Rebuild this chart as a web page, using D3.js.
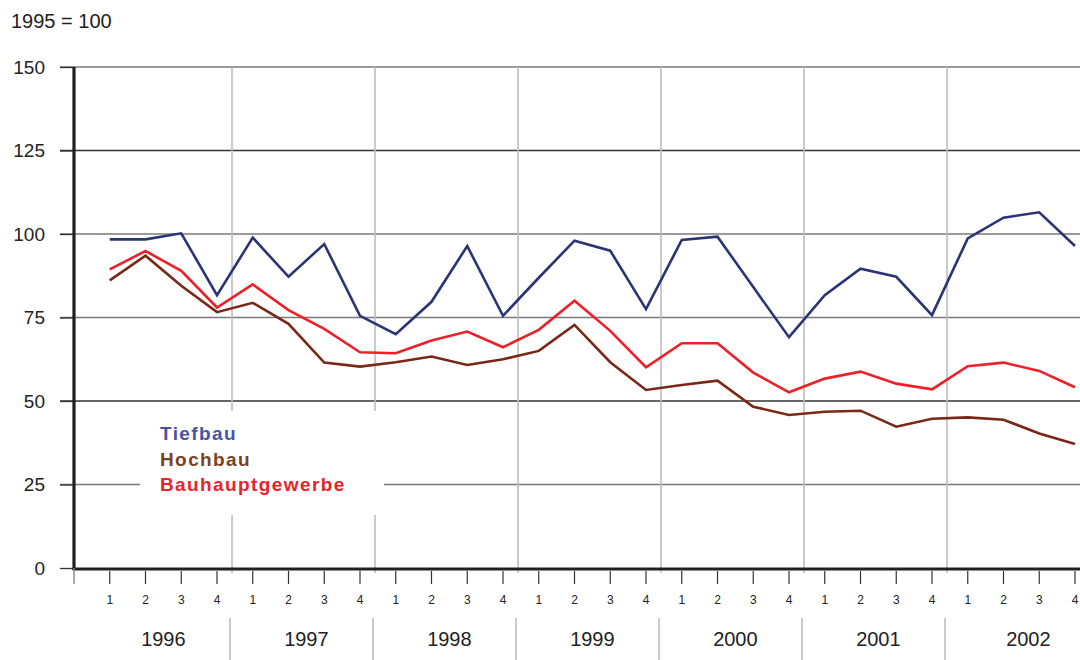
<!DOCTYPE html>
<html>
<head>
<meta charset="utf-8">
<script src="https://cdn.jsdelivr.net/npm/d3@7"></script>
<style>
  body { margin: 0; background: #fff; }
  svg text { font-family: "Liberation Sans", Arial, sans-serif; }
</style>
</head>
<body>
<div id="chart"></div>
<script>
// quarters 1996..2002
var years = ["1996", "1997", "1998", "1999", "2000", "2001", "2002"];
var quarters = ["1", "2", "3", "4"];
var yTicks = [0, 25, 50, 75, 100, 125, 150];

var tiefbau = [98.4, 98.4, 100.2, 81.7, 98.9, 87.2, 97.0, 75.5, 70.0, 79.7, 96.4, 75.5, 86.9, 98.0,
               95.0, 77.5, 98.2, 99.2, 84.1, 69.1, 81.7, 89.6, 87.2, 75.7, 98.7, 104.9, 106.5, 96.4];
var hochbau = [86.1, 93.5, 84.5, 76.6, 79.4, 73.1, 61.5, 60.3, 61.6, 63.3, 60.8, 62.5, 65.0, 72.8,
               61.6, 53.3, 54.8, 56.1, 48.3, 45.8, 46.8, 47.1, 42.3, 44.7, 45.1, 44.4, 40.3, 37.1];
var bauhaupt = [89.4, 94.9, 89.0, 78.0, 84.9, 77.2, 71.6, 64.6, 64.3, 68.1, 70.8, 66.1, 71.3, 80.0,
                71.0, 60.1, 67.3, 67.3, 58.5, 52.6, 56.7, 58.8, 55.2, 53.5, 60.4, 61.5, 59.0, 54.1];

var seriesNames = ["Tiefbau", "Hochbau", "Bauhauptgewerbe"];

(function () {
  var width = 1080, height = 660;
  var left = 74, top = 67, bottom = 568;

  var svg = d3.select("#chart").append("svg")
      .attr("width", width)
      .attr("height", height);

  // index 0 is the axis, quarters sit at 1..28
  var x = d3.scaleLinear().domain([0, 28]).range([left, 1075]);
  var y = d3.scaleLinear().domain([0, 150]).range([bottom, top]);

  // unit label
  svg.append("text")
      .attr("x", 11).attr("y", 28)
      .style("font-size", "20px")
      .attr("fill", "#222")
      .text("1995 = 100");

  // horizontal grid
  var darkLines = [125, 50];
  svg.selectAll(".hgrid")
      .data(yTicks.filter(function(d) { return d > 0; }))
      .enter().append("line")
      .attr("class", "hgrid")
      .attr("x1", 60).attr("x2", width)
      .attr("y1", function(d) { return y(d); })
      .attr("y2", function(d) { return y(d); })
      .attr("stroke", function(d) { return darkLines.indexOf(d) >= 0 ? "#333" : "#7a7a7a"; })
      .attr("stroke-width", function(d) { return darkLines.indexOf(d) >= 0 ? 1.3 : 1.6; });

  // year separators
  var seps = d3.range(1, years.length).map(function(k) { return 4 * k + 0.42; });
  svg.selectAll(".vgrid")
      .data(seps)
      .enter().append("line")
      .attr("class", "vgrid")
      .attr("x1", function(d) { return x(d); })
      .attr("x2", function(d) { return x(d); })
      .attr("y1", top).attr("y2", bottom + 5)
      .attr("stroke", "#bdbdbd")
      .attr("stroke-width", 1.6);

  // white box behind legend
  svg.append("rect")
      .attr("x", 140).attr("y", 411)
      .attr("width", 244).attr("height", 104)
      .attr("fill", "#fff");

  // y tick labels and ticks
  var yAxis = svg.append("g")
      .attr("transform", "translate(" + left + ",0)")
      .call(d3.axisLeft(y).tickValues(yTicks).tickSize(14).tickPadding(15));
  yAxis.select(".domain").remove();
  yAxis.selectAll(".tick line").attr("stroke", "#333").attr("stroke-width", 1.3);
  yAxis.selectAll(".tick text")
      .attr("fill", "#222")
      .style("font-size", "19px")
      .style("font-family", "'Liberation Sans', Arial, sans-serif");

  // series lines
  var colors = ["#2b3474", "#7b2716", "#ee1f27"];
  var data = [tiefbau, hochbau, bauhaupt];
  var line = d3.line()
      .x(function(d, i) { return x(i + 1); })
      .y(function(d) { return y(d); });

  svg.selectAll(".series")
      .data([tiefbau, bauhaupt, hochbau])
      .enter().append("path")
      .attr("class", "series")
      .attr("d", line)
      .attr("fill", "none")
      .attr("stroke", function(d) { return colors[data.indexOf(d)]; })
      .attr("stroke-width", 2.6)
      .attr("stroke-linejoin", "miter");

  // axes lines
  svg.append("line")
      .attr("x1", left).attr("x2", left)
      .attr("y1", top).attr("y2", bottom + 2)
      .attr("stroke", "#231f20").attr("stroke-width", 3.2);
  svg.append("line")
      .attr("x1", left - 1.5).attr("x2", width)
      .attr("y1", bottom + 1).attr("y2", bottom + 1)
      .attr("stroke", "#231f20").attr("stroke-width", 3.2);

  // quarter ticks
  var qIdx = d3.range(1, 29);
  svg.selectAll(".qtick")
      .data(qIdx)
      .enter().append("line")
      .attr("class", "qtick")
      .attr("x1", function(d) { return x(d); })
      .attr("x2", function(d) { return x(d); })
      .attr("y1", bottom + 3).attr("y2", bottom + 16)
      .attr("stroke", "#333").attr("stroke-width", 1.2);
  svg.append("line")
      .attr("x1", x(0)).attr("x2", x(0))
      .attr("y1", bottom).attr("y2", bottom + 16)
      .attr("stroke", "#888").attr("stroke-width", 1.4);

  svg.selectAll(".qlabel")
      .data(qIdx)
      .enter().append("text")
      .attr("class", "qlabel")
      .attr("x", function(d) { return x(d); })
      .attr("y", 604)
      .attr("text-anchor", "middle")
      .style("font-size", "12px")
      .attr("fill", "#222")
      .text(function(d) { return quarters[(d - 1) % 4]; });

  // year labels and separators below
  svg.selectAll(".ysep")
      .data(seps)
      .enter().append("line")
      .attr("class", "ysep")
      .attr("x1", function(d) { return x(d) - 2; })
      .attr("x2", function(d) { return x(d) - 2; })
      .attr("y1", 618).attr("y2", height)
      .attr("stroke", "#bdbdbd").attr("stroke-width", 1.6);

  svg.selectAll(".ylabel")
      .data(years)
      .enter().append("text")
      .attr("class", "ylabel")
      .attr("x", function(d, k) { return x(4 * k + 2.5) + (k === years.length - 1 ? 7 : 0); })
      .attr("y", 646)
      .attr("text-anchor", "middle")
      .style("font-size", "20px")
      .attr("fill", "#222")
      .text(function(d) { return d; });

  // legend
  var legendColors = ["#4b52a4", "#7b4220", "#ec2229"];
  svg.selectAll(".legend")
      .data(seriesNames)
      .enter().append("text")
      .attr("class", "legend")
      .attr("x", 160)
      .attr("y", function(d, i) { return 440 + i * 25.5; })
      .style("font-size", "19px")
      .style("font-weight", "bold")
      .style("letter-spacing", "1.4px")
      .attr("fill", function(d, i) { return legendColors[i]; })
      .text(function(d) { return d; });
})();
</script>
</body>
</html>
